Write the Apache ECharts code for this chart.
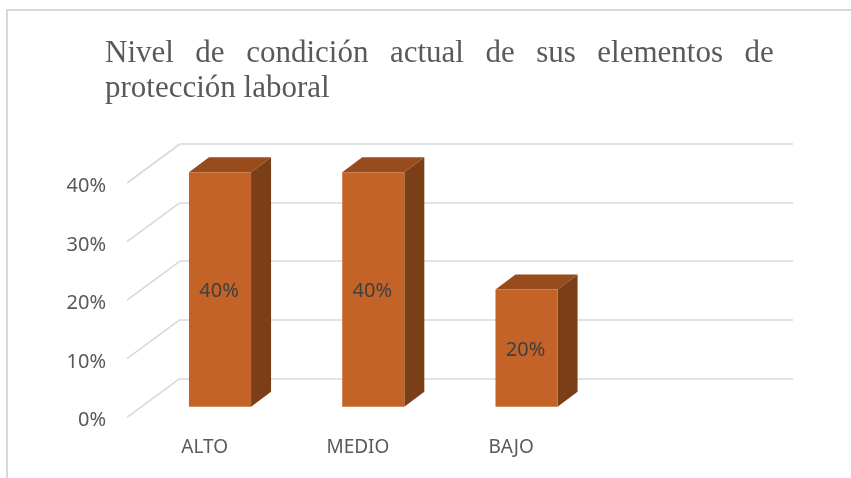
<!DOCTYPE html>
<html>
<head>
<meta charset="utf-8">
<script src="https://cdn.jsdelivr.net/npm/echarts@6/dist/echarts.min.js"></script>
<style>
    html, body {margin: 0; padding: 0; background: #fff;}
    #chart {width: 851px; height: 478px;}
</style>
</head>
<body>
<div id="chart"></div>
<script>
    // data
    const categories = ['ALTO', 'MEDIO', 'BAJO'];
    const values = [0.4, 0.4, 0.2];
    const yTicks = [0, 0.1, 0.2, 0.3, 0.4];
    const titleWords = ['Nivel', 'de', 'condición', 'actual', 'de', 'sus', 'elementos', 'de'];
    const titleLine2 = 'protección laboral';

    const pct = v => Math.round(v * 100) + '%';
    const gridColor = '#d9d9d9';
    const labelFont = 'Noto Sans';

    // depth of the floor (front plane -> back plane) and of a bar
    const floorDx = 53, floorDy = -39;
    const barDx = 20, barDy = -15;

    const chart = echarts.init(document.getElementById('chart'), null, {renderer: 'canvas'});

    const line1 = titleWords.map(w => '{w|' + w + '}').join('{s| }');

    chart.setOption({
        backgroundColor: '#fff',
        animation: false,
        title: {
            text: line1 + '\n{w|' + titleLine2 + '}',
            left: 100,
            top: 31,
            textStyle: {
                fontWeight: 'normal',
                rich: {
                    w: {fontFamily: 'Liberation Serif', fontWeight: 'normal', fontSize: 31, lineHeight: 35, color: '#595959'},
                    s: {fontFamily: 'Liberation Serif', fontWeight: 'normal', fontSize: 31, lineHeight: 35, width: 21.5}
                }
            }
        },
        graphic: [{
            type: 'polyline',
            shape: {points: [[7, 478], [7, 10], [851, 10]]},
            style: {stroke: gridColor, lineWidth: 2, fill: null},
            silent: true
        }],
        grid: [
            // back wall
            {left: 180, right: 58, top: 144, bottom: 99.7, outerBoundsMode: 'none'},
            // front edge of the floor (labels)
            {left: 128, width: 459.75, top: 186.7, bottom: 57.3, outerBoundsMode: 'none'},
            // bar fronts
            {left: 143.4, width: 459.75, top: 172.3, bottom: 71.3, outerBoundsMode: 'none'}
        ],
        xAxis: [
            {gridIndex: 0, type: 'value', min: 0, max: 1, show: false},
            {
                gridIndex: 1, type: 'category', data: categories,
                axisLine: {show: false}, axisTick: {show: false},
                axisLabel: {margin: 17, color: '#595959', fontSize: 19, fontFamily: labelFont}
            },
            {gridIndex: 2, type: 'category', data: categories, show: false}
        ],
        yAxis: [
            {
                gridIndex: 0, type: 'value', min: yTicks[0], max: yTicks[yTicks.length - 1], interval: 0.1,
                axisLine: {show: false}, axisTick: {show: false}, axisLabel: {show: false},
                splitLine: {lineStyle: {color: gridColor, width: 1.6}}
            },
            {
                gridIndex: 1, type: 'value', min: yTicks[0], max: yTicks[yTicks.length - 1], interval: 0.1,
                axisLine: {show: false}, axisTick: {show: false}, splitLine: {show: false},
                axisLabel: {margin: 22, color: '#595959', fontSize: 20, fontFamily: labelFont, formatter: pct}
            },
            {gridIndex: 2, type: 'value', min: yTicks[0], max: yTicks[yTicks.length - 1], show: false}
        ],
        series: [
            {
                // floor diagonals of the gridlines
                type: 'custom',
                xAxisIndex: 0,
                yAxisIndex: 0,
                silent: true,
                z: 1,
                data: yTicks.map(v => [0, v]),
                renderItem: function (params, api) {
                    const p = api.coord([0, api.value(1)]);
                    return {
                        type: 'line',
                        shape: {x1: p[0], y1: p[1], x2: p[0] - floorDx, y2: p[1] - floorDy},
                        style: {stroke: gridColor, lineWidth: 1.6}
                    };
                }
            },
            {
                type: 'custom',
                xAxisIndex: 2,
                yAxisIndex: 2,
                z: 5,
                data: values.map((v, i) => [i, v]),
                renderItem: function (params, api) {
                    const v = api.value(1);
                    const base = api.coord([api.value(0), 0]);
                    const top = api.coord([api.value(0), v]);
                    const w = api.size([1, 0])[0] * 0.405;
                    const x0 = base[0] - w / 2, x1 = base[0] + w / 2;
                    return {
                        type: 'group',
                        children: [
                            {
                                type: 'polygon',
                                shape: {points: [[x1, top[1]], [x1 + barDx, top[1] + barDy], [x1 + barDx, base[1] + barDy], [x1, base[1]]]},
                                style: {fill: '#7b3f17'}
                            },
                            {
                                type: 'polygon',
                                shape: {points: [[x0, top[1]], [x0 + barDx, top[1] + barDy], [x1 + barDx, top[1] + barDy], [x1, top[1]]]},
                                style: {fill: '#984b1c'}
                            },
                            {
                                type: 'rect',
                                shape: {x: x0, y: top[1], width: w, height: base[1] - top[1]},
                                style: {fill: '#c46327'}
                            },
                            {
                                type: 'text',
                                x: base[0] - 1,
                                y: (base[1] + top[1]) / 2 + 2,
                                style: {
                                    text: pct(v), align: 'center', verticalAlign: 'middle',
                                    fill: '#404040', fontSize: 20, fontFamily: labelFont
                                }
                            }
                        ]
                    };
                }
            }
        ]
    });
</script>
</body>
</html>
